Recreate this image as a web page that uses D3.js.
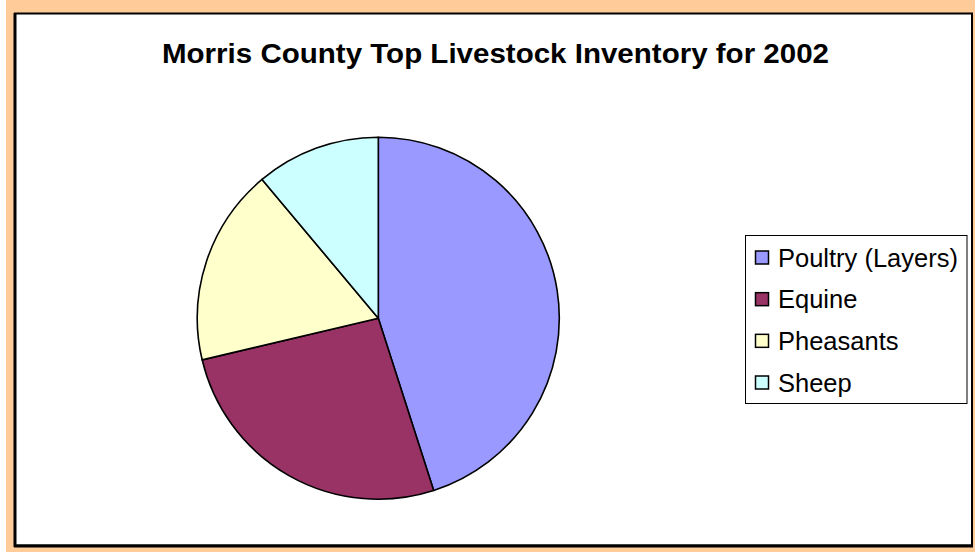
<!DOCTYPE html>
<html>
<head>
<meta charset="utf-8">
<script src="https://cdn.jsdelivr.net/npm/d3@7"></script>
<style>
  html, body { margin: 0; padding: 0; background: #ffffff; }
  svg { display: block; }
</style>
</head>
<body>
<svg id="chart" width="975" height="552"></svg>
<script>
const categories = ["Poultry (Layers)", "Equine", "Pheasants", "Sheep"];
const values = [45.05, 26.25, 17.6, 11.1];
const colors = ["#9999FF", "#993366", "#FFFFCC", "#CCFFFF"];
const title = "Morris County Top Livestock Inventory for 2002";

const svg = d3.select("#chart");
const W = 975, H = 552;

// page background and frame
svg.append("rect").attr("x", 6).attr("y", 0).attr("width", W - 6).attr("height", H).attr("fill", "#FFCC99");
svg.append("rect").attr("x", 15).attr("y", 13.5).attr("width", 957).attr("height", 532)
  .attr("fill", "#ffffff").attr("stroke", "#000").attr("stroke-width", 2);
svg.append("line").attr("x1", 15).attr("x2", 15).attr("y1", 13).attr("y2", 547).attr("stroke", "#000").attr("stroke-width", 3);
svg.append("line").attr("x1", 14).attr("x2", 973).attr("y1", 546).attr("y2", 546).attr("stroke", "#000").attr("stroke-width", 3);

// title
svg.append("text")
  .attr("x", 495.5).attr("y", 62.5)
  .attr("text-anchor", "middle")
  .attr("font-family", "Liberation Sans, Arial, sans-serif")
  .attr("font-weight", "bold")
  .attr("font-size", 28)
  .attr("textLength", 667)
  .attr("lengthAdjust", "spacingAndGlyphs")
  .text(title);

// pie
const cx = 378.3, cy = 318.2, r = 181;
const pie = d3.pie().sort(null).value(d => d.v).startAngle(0).endAngle(2 * Math.PI);
const data = categories.map((c, i) => ({ c, v: values[i] }));
const arc = d3.arc().innerRadius(0).outerRadius(r);
const color = d3.scaleOrdinal().domain(categories).range(colors);

svg.append("g").attr("transform", `translate(${cx},${cy})`)
  .selectAll("path").data(pie(data)).join("path")
  .attr("d", arc)
  .attr("fill", d => color(d.data.c))
  .attr("stroke", "#000")
  .attr("stroke-width", 1.6)
  .attr("stroke-linejoin", "round");

// legend
const lg = svg.append("g");
lg.append("rect").attr("x", 745.5).attr("y", 235.5).attr("width", 221.5).attr("height", 168)
  .attr("fill", "#fff").attr("stroke", "#000").attr("stroke-width", 1);
const rowY = d3.scalePoint().domain(categories).range([257.5, 382.5]);
const rows = lg.selectAll("g.row").data(categories).join("g").attr("class", "row")
  .attr("transform", d => `translate(0,${rowY(d)})`);
rows.append("rect").attr("x", 755.5).attr("y", -6.5).attr("width", 13).attr("height", 13)
  .attr("fill", d => color(d)).attr("stroke", "#000").attr("stroke-width", 1.5);
rows.append("text").attr("x", 778).attr("y", 0).attr("dy", "0.36em")
  .attr("font-family", "Liberation Sans, Arial, sans-serif")
  .attr("font-size", 25.5)
  .attr("fill", "#000")
  .text(d => d);
</script>
</body>
</html>
